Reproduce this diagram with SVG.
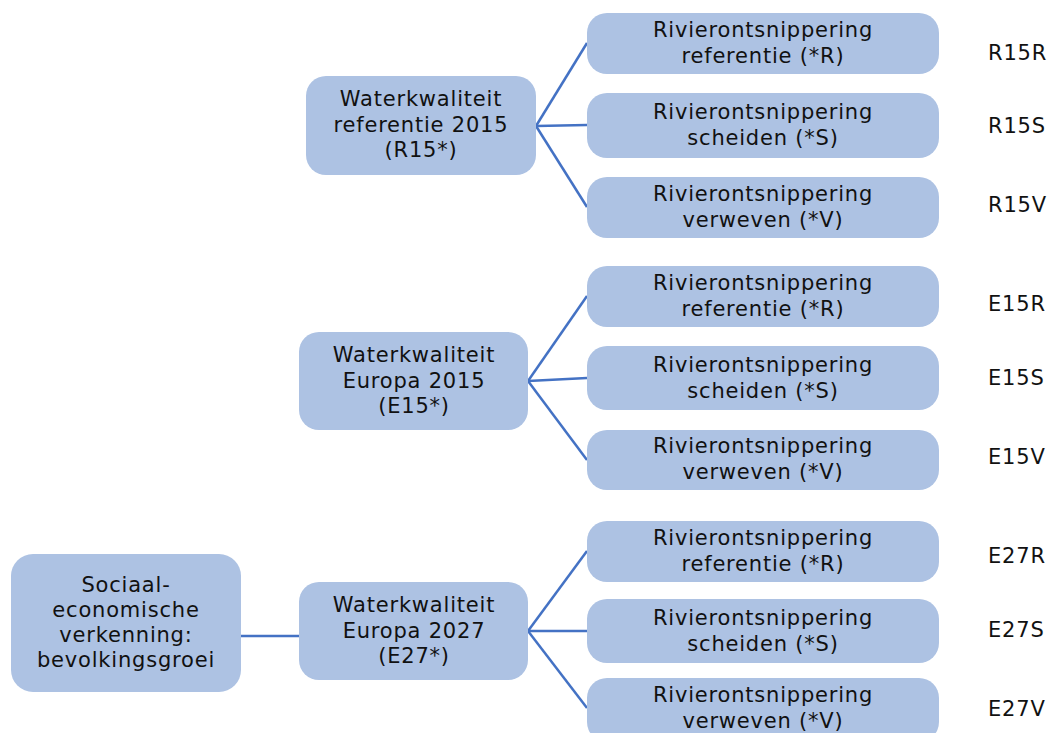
<svg xmlns="http://www.w3.org/2000/svg" width="1050" height="733" viewBox="0 0 1050 733">
<style>
.box{fill:#adc2e3;}
.t{font-family:"DejaVu Sans","Verdana",sans-serif;font-size:21px;letter-spacing:0.8px;fill:#111111;text-anchor:middle;}
.lbl{font-family:"DejaVu Sans","Verdana",sans-serif;font-size:21px;letter-spacing:0.8px;fill:#111111;}
.c{stroke:#4472c4;stroke-width:2.5;fill:none;}
</style>
<rect width="1050" height="733" fill="#ffffff"/>
<g id="connectors">
<line class="c" x1="536" y1="126" x2="587" y2="43"/>
<line class="c" x1="536" y1="126" x2="587" y2="125"/>
<line class="c" x1="536" y1="126" x2="587" y2="207"/>
<line class="c" x1="528" y1="381" x2="587" y2="296"/>
<line class="c" x1="528" y1="381" x2="587" y2="378"/>
<line class="c" x1="528" y1="381" x2="587" y2="460"/>
<line class="c" x1="528" y1="631" x2="587" y2="551"/>
<line class="c" x1="528" y1="631" x2="587" y2="631"/>
<line class="c" x1="528" y1="631" x2="587" y2="708"/>
<line class="c" x1="241" y1="636" x2="299" y2="636"/>
</g>
<g id="n-soc">
<rect class="box" x="11" y="554" width="230" height="138" rx="22"/>
<text class="t" x="126" y="592">Sociaal-</text>
<text class="t" x="126" y="617">economische</text>
<text class="t" x="126" y="642">verkenning:</text>
<text class="t" x="126" y="667">bevolkingsgroei</text>
</g>
<g id="n-r15">
<rect class="box" x="306" y="76" width="230" height="99" rx="20"/>
<text class="t" x="421" y="106">Waterkwaliteit</text>
<text class="t" x="421" y="132">referentie 2015</text>
<text class="t" x="421" y="157">(R15*)</text>
</g>
<g id="n-e15">
<rect class="box" x="299" y="332" width="229" height="98" rx="20"/>
<text class="t" x="414" y="362">Waterkwaliteit</text>
<text class="t" x="414" y="388">Europa 2015</text>
<text class="t" x="414" y="413">(E15*)</text>
</g>
<g id="n-e27">
<rect class="box" x="299" y="582" width="229" height="98" rx="20"/>
<text class="t" x="414" y="612">Waterkwaliteit</text>
<text class="t" x="414" y="638">Europa 2027</text>
<text class="t" x="414" y="663">(E27*)</text>
</g>
<g id="n-r15r">
<rect class="box" x="587" y="13" width="352" height="61" rx="20"/>
<text class="t" x="763" y="37">Rivierontsnippering</text>
<text class="t" x="763" y="63">referentie (*R)</text>
</g>
<g id="n-r15s">
<rect class="box" x="587" y="93" width="352" height="65" rx="20"/>
<text class="t" x="763" y="119">Rivierontsnippering</text>
<text class="t" x="763" y="145">scheiden (*S)</text>
</g>
<g id="n-r15v">
<rect class="box" x="587" y="177" width="352" height="61" rx="20"/>
<text class="t" x="763" y="201">Rivierontsnippering</text>
<text class="t" x="763" y="227">verweven (*V)</text>
</g>
<g id="n-e15r">
<rect class="box" x="587" y="266" width="352" height="61" rx="20"/>
<text class="t" x="763" y="290">Rivierontsnippering</text>
<text class="t" x="763" y="316">referentie (*R)</text>
</g>
<g id="n-e15s">
<rect class="box" x="587" y="346" width="352" height="64" rx="20"/>
<text class="t" x="763" y="372">Rivierontsnippering</text>
<text class="t" x="763" y="398">scheiden (*S)</text>
</g>
<g id="n-e15v">
<rect class="box" x="587" y="430" width="352" height="60" rx="20"/>
<text class="t" x="763" y="453">Rivierontsnippering</text>
<text class="t" x="763" y="479">verweven (*V)</text>
</g>
<g id="n-e27r">
<rect class="box" x="587" y="521" width="352" height="61" rx="20"/>
<text class="t" x="763" y="545">Rivierontsnippering</text>
<text class="t" x="763" y="571">referentie (*R)</text>
</g>
<g id="n-e27s">
<rect class="box" x="587" y="599" width="352" height="64" rx="20"/>
<text class="t" x="763" y="625">Rivierontsnippering</text>
<text class="t" x="763" y="651">scheiden (*S)</text>
</g>
<g id="n-e27v">
<rect class="box" x="587" y="678" width="352" height="64" rx="20"/>
<text class="t" x="763" y="702">Rivierontsnippering</text>
<text class="t" x="763" y="728">verweven (*V)</text>
</g>
<g id="labels">
<text class="lbl" x="988" y="60">R15R</text>
<text class="lbl" x="988" y="133">R15S</text>
<text class="lbl" x="988" y="212">R15V</text>
<text class="lbl" x="988" y="311">E15R</text>
<text class="lbl" x="988" y="385">E15S</text>
<text class="lbl" x="988" y="464">E15V</text>
<text class="lbl" x="988" y="563">E27R</text>
<text class="lbl" x="988" y="637">E27S</text>
<text class="lbl" x="988" y="716">E27V</text>
</g>
</svg>
